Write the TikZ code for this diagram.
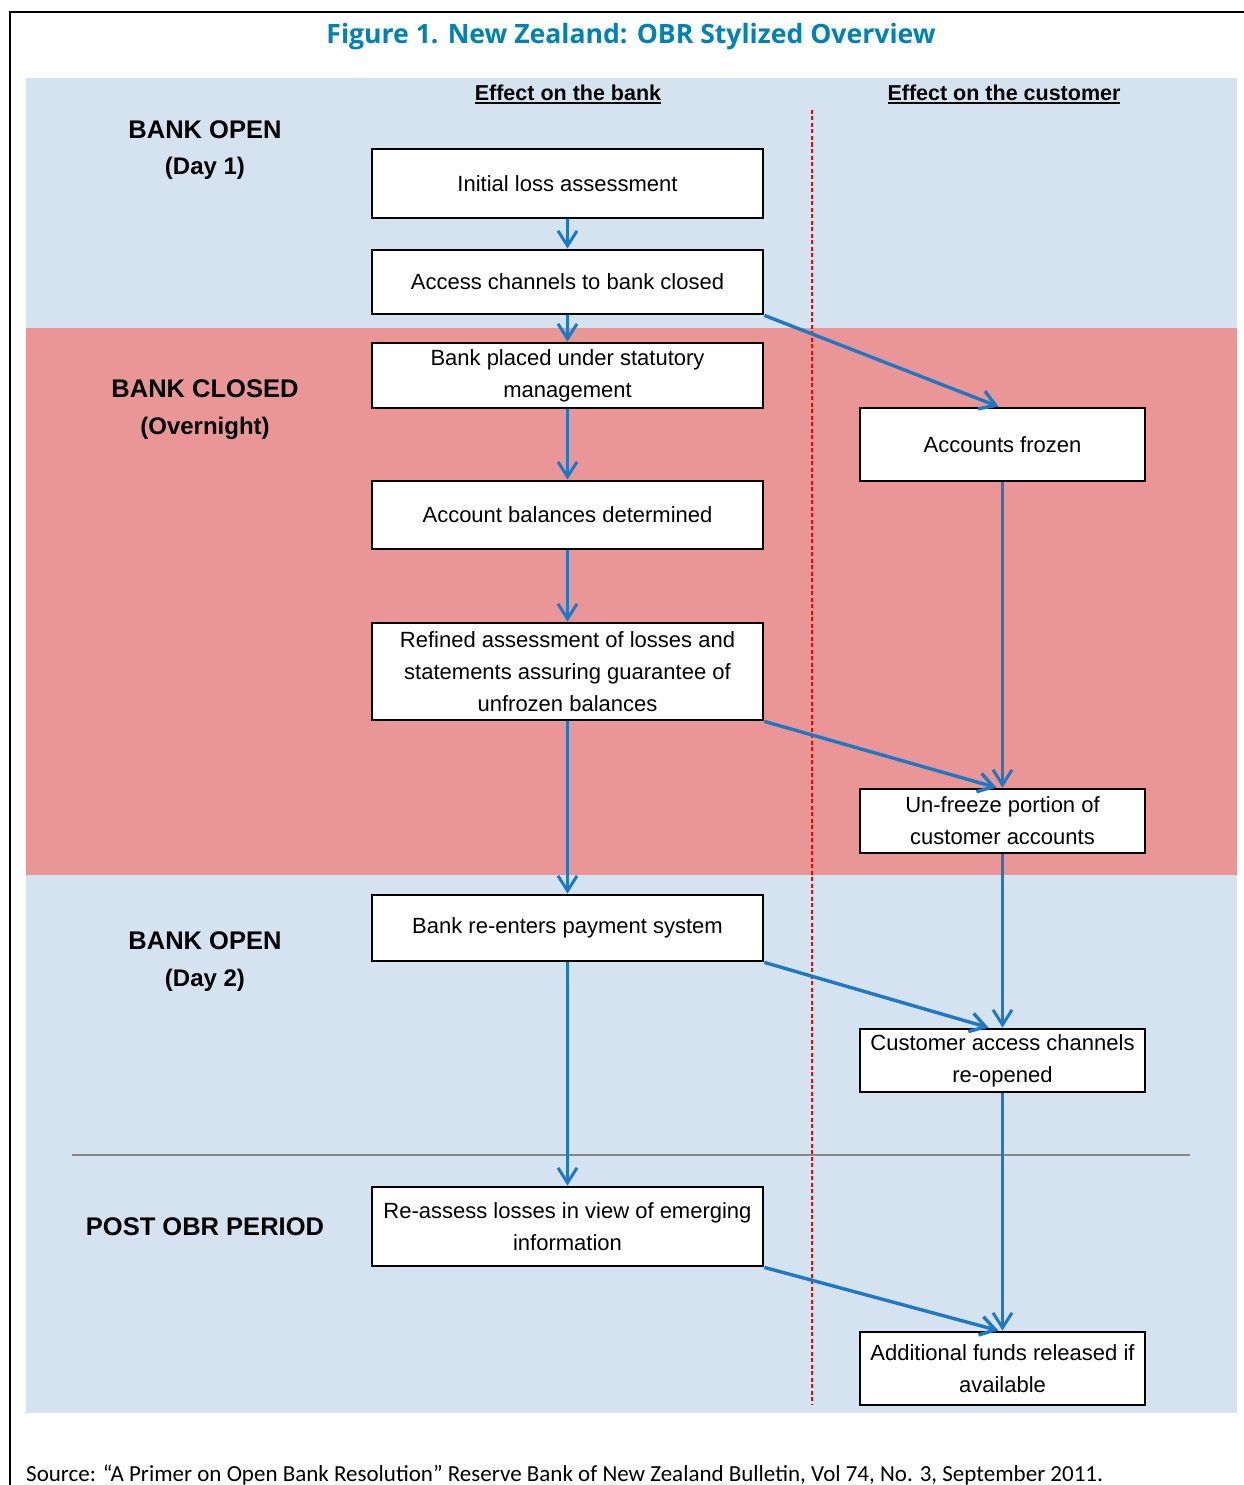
\documentclass[tikz,border=0pt]{standalone}
\usepackage{fontspec}
\setmainfont{Liberation Sans}
\newfontfamily\titlefont{Open Sans}
\newfontfamily\srcfont{Carlito}
\usetikzlibrary{arrows.meta}
\definecolor{panelblue}{RGB}{213,226,240}
\definecolor{panelred}{RGB}{234,150,150}
\definecolor{arrowblue}{RGB}{30,120,195}
\definecolor{titleblue}{RGB}{0,130,180}
\definecolor{sepgray}{RGB}{135,135,135}
\newcommand\ulx[1]{\setbox0\hbox{#1}\rlap{\rule[-3.5pt]{\wd0}{2pt}}\box0}
\begin{document}
\begin{tikzpicture}[x=1pt,y=-1pt,
  box/.style={draw=black, line width=2.8pt, fill=white, align=center, inner sep=0pt,
              font=\fontsize{22}{32}\selectfont},
  lbox/.style={box, minimum width=391pt},
  rbox/.style={box, minimum width=285pt},
  conn/.style={draw=arrowblue, line width=3pt, -{Straight Barb[length=15pt,width=19pt]}},
  seclabel/.style={font=\bfseries\fontsize{25.5}{28}\selectfont, inner sep=0pt},
  seclabelp/.style={font=\bfseries\fontsize{24}{28}\selectfont, inner sep=0pt},
  hdr/.style={font=\bfseries\fontsize{21.5}{26}\selectfont, inner sep=0pt}]
\useasboundingbox (0,0) rectangle (1244,1485);
\fill[white] (0,0) rectangle (1244,1485);
% frame
\draw[line width=2pt] (1244,12) -- (10,12) -- (10,1490);
% panels
\fill[panelblue] (26,78) rectangle (1237,328);
\fill[panelred] (26,328) rectangle (1237,875);
\fill[panelblue] (26,875) rectangle (1237,1413);
% title
\node[font=\titlefont\bfseries\fontsize{26.6}{30}\selectfont, text=titleblue, inner sep=0pt] (title) at (631,37) {Figure 1. New Zealand: OBR Stylized Overview};
% headers
\node[hdr] (h1) at (568,94) {\ulx{Effect on the bank}};
\node[hdr] (h2) at (1004,94) {\ulx{Effect on the customer}};
% section labels
\node[seclabel] (s1a) at (205,130) {BANK OPEN};
\node[seclabelp] (s1b) at (205,168) {(Day 1)};
\node[seclabel] (s2a) at (205,389) {BANK CLOSED};
\node[seclabelp] (s2b) at (205,428) {(Overnight)};
\node[seclabel] (s3a) at (205,941) {BANK OPEN};
\node[seclabelp] (s3b) at (205,980) {(Day 2)};
\node[seclabel] (s4) at (205,1227) {POST OBR PERIOD};
% separators
\draw[sepgray, line width=2pt] (72,1155) -- (1190,1155);
\draw[red, line width=2pt, dash pattern=on 4pt off 2.5pt] (812,110) -- (812,1405);
% left boxes
\node[lbox, minimum height=69pt] (b1) at (567.5,183.5) {Initial loss assessment};
\node[lbox, minimum height=64pt] (b2) at (567.5,282) {Access channels to bank closed};
\node[lbox, minimum height=65pt] (b3) at (567.5,375.5) {Bank placed under statutory\\management};
\node[lbox, minimum height=68pt] (b4) at (567.5,515) {Account balances determined};
\node[lbox, minimum height=97pt] (b5) at (567.5,671.5) {Refined assessment of losses and\\statements assuring guarantee of\\unfrozen balances};
\node[lbox, minimum height=66pt] (b6) at (567.5,928) {Bank re-enters payment system};
\node[lbox, minimum height=79pt] (b7) at (567.5,1226.5) {Re-assess losses in view of emerging\\information};
% right boxes
\node[rbox, minimum height=73pt] (ra) at (1002.5,444.5) {Accounts frozen};
\node[rbox, minimum height=64pt] (rb) at (1002.5,821) {Un-freeze portion of\\customer accounts};
\node[rbox, minimum height=63pt] (rc) at (1002.5,1060.5) {Customer access channels\\re-opened};
\node[rbox, minimum height=73pt] (rd) at (1002.5,1368.5) {Additional funds released if\\available};
% connectors left column
\draw[conn] (b1) -- (b2);
\draw[conn] (b2) -- (b3);
\draw[conn] (b3) -- (b4);
\draw[conn] (b4) -- (b5);
\draw[conn] (b5) -- (b6);
\draw[conn] (b6) -- (b7);
% connectors right column
\draw[conn] (ra) -- (rb);
\draw[conn] (rb) -- (rc);
\draw[conn] (rc) -- (rd);
% diagonal connectors
\draw[conn, line width=3.4pt] (b2.south east) -- ([xshift=-4pt]ra.north);
\draw[conn, line width=3.4pt] (b5.south east) -- ([xshift=-6pt]rb.north);
\draw[conn, line width=3.4pt] (b6.south east) -- ([xshift=-14pt]rc.north);
\draw[conn, line width=3.4pt] (b7.south east) -- ([xshift=-4pt]rd.north);
% source
\node[anchor=base west, font=\srcfont\fontsize{23}{26}\selectfont, inner sep=0pt] (src) at (26,1481) {Source: “A Primer on Open Bank Resolution” Reserve Bank of New Zealand Bulletin, Vol 74, No. 3, September 2011.};
\end{tikzpicture}
\end{document}
